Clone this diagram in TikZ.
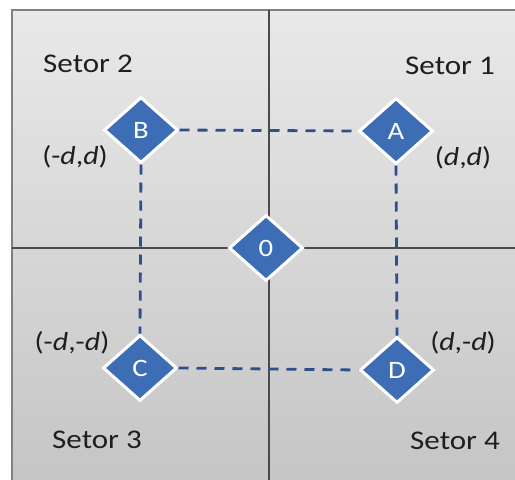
\documentclass[tikz,border=0pt]{standalone}
\usepackage{fontspec}
\setmainfont[FakeStretch=1.15]{Carlito}
\usetikzlibrary{shapes.geometric}
\definecolor{bgtop}{HTML}{E9E9E9}
\definecolor{bgbot}{HTML}{C4C4C4}
\definecolor{framec}{HTML}{808080}
\definecolor{axisc}{HTML}{4A4A4A}
\definecolor{dblue}{HTML}{3D6DB5}
\definecolor{dashc}{HTML}{2F4F8C}
\definecolor{txt}{HTML}{1E1E1E}
\begin{document}
\begin{tikzpicture}[x=1pt,y=-1pt,
  pt/.style={diamond, fill=dblue, draw=white, line width=3pt, minimum width=74pt, minimum height=66pt, inner sep=0pt, text=white, font=\fontsize{25}{25}\selectfont},
  sector/.style={text=txt, font=\fontsize{27}{27}\selectfont, inner sep=0pt},
  coordlbl/.style={text=txt, font=\fontsize{26}{26}\selectfont, inner sep=0pt},
  link/.style={dashc, line width=2.8pt, dash pattern=on 10pt off 8pt}]
\useasboundingbox (0,0) rectangle (515,480);
\clip (0,0) rectangle (515,480);
\fill[white] (0,0) rectangle (515,480);
\shade[top color=bgtop, bottom color=bgbot] (12,10) rectangle (530,495);
\draw[framec, line width=2pt] (12,10) rectangle (530,495);
\draw[axisc, line width=1.5pt] (269,10) -- (269,495);
\draw[axisc, line width=1.5pt] (12,248) -- (530,248);
\node[pt] (B) at (141,130) {B};
\node[pt] (A) at (396,131) {A};
\node[pt] (O) at (266,248) {0};
\node[pt] (C) at (140,368) {C};
\node[pt] (D) at (397,370) {D};
\draw[link] (B.east) -- (A.west);
\draw[link] (B.south) -- (C.north);
\draw[link] (A.south) -- (D.north);
\draw[link] (C.east) -- (D.west);
\node[sector] (s2) at (88,64) {Setor 2};
\node[sector] (s1) at (450,66) {Setor 1};
\node[sector] (s3) at (97,440) {Setor 3};
\node[sector] (s4) at (455,441) {Setor 4};
\node[coordlbl] (lb) at (75,157) {(-\textit{d},\textit{d})};
\node[coordlbl] (la) at (463,158) {(\textit{d},\textit{d})};
\node[coordlbl] (lc) at (72,343) {(-\textit{d},-\textit{d})};
\node[coordlbl] (ld) at (463,343) {(\textit{d},-\textit{d})};
\end{tikzpicture}
\end{document}
